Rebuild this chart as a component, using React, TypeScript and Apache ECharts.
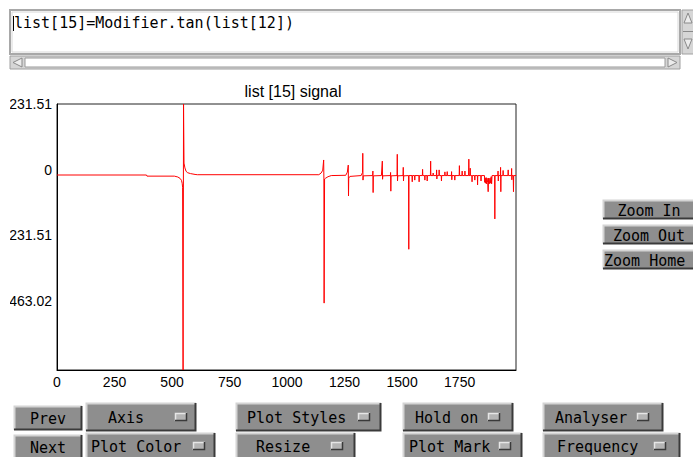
import React, { useEffect, useRef } from "react";
import * as echarts from "echarts";

// ---- chart data ----
const chartTitle = "list [15] signal";
const expressionText = "list[15]=Modifier.tan(list[12])";
const xTickValues = [0, 250, 500, 750, 1000, 1250, 1500, 1750];
const yTickValues = [231.51, 0, -231.51, -463.02];
const xMax = 1995;
const yMin = -707;
const yMax = 231.51;

// sample index / value pairs
const leadIn: number[][] = [
  [0, -19], [389, -19], [391, -23], [510, -23], [525, -26], [535, -31],
  [541, -38], [544, -48], [546, -62],
];
const firstPole: number[][] = [
  [547, -432], [548, -707], [550, 231.51], [552, 23], [556, 6], [561, -6],
  [568, -11], [580, -14], [600, -17], [610, -18],
];
const secondPole: number[][] = [
  [1138, -18], [1148, -12], [1155, -2], [1159, 34], [1160, -30], [1161, -471],
  [1163, -33], [1168, -30], [1178, -25], [1192, -21],
];
const spikeTrain: number[][] = [
  [1255, -20], [1262, -9], [1266, 16], [1267, -93], [1268, -30], [1273, -24],
  [1322, -21], [1328, -10], [1329, 57.6], [1330, -37], [1331, -22],
  [1372, -21], [1373, -5], [1374, -81], [1375, -22],
  [1410, -21], [1414, 30], [1415, -34], [1416, -22],
  [1449, -21], [1450, -10], [1451, -76], [1452, -22],
  [1478, -21], [1479, 54], [1480, -40], [1481, -22],
  [1504, -21], [1505, 8], [1506, -40], [1507, -22],
  [1528, -21], [1529, -281], [1530, -21],
  [1543, -21], [1544, -43], [1545, -21],
  [1554, -21], [1555, -37], [1556, -21],
  [1573, -21], [1574, -43], [1575, -21],
  [1588, -21], [1589, 1], [1590, -21],
  [1598, -21], [1599, -37], [1600, -21],
  [1608, -21], [1609, -40], [1610, -21],
  [1623, -21], [1624, 30], [1625, -21],
  [1634, -21], [1635, -12], [1636, -21],
];
const noisyTail: number[][] = [
  [1649, -21], [1650, -1], [1651, -33], [1652, -21],
  [1660, -21], [1661, -1], [1662, -21],
  [1670, -21], [1671, -40], [1672, -21],
  [1685, -21], [1686, -8], [1687, -21],
  [1695, -21], [1696, -7], [1697, -21],
  [1714, -21], [1715, -7], [1716, -36], [1717, -21],
  [1728, -21], [1729, -37], [1730, -21],
  [1748, -21], [1749, 14], [1750, -21],
  [1760, -21], [1761, -5], [1762, -21],
  [1772, -21], [1773, -5], [1774, -21],
  [1789, -21], [1790, 37], [1791, -21],
  [1795, -21], [1796, 5], [1797, -21],
  [1803, -21], [1804, -43], [1805, -21],
  [1815, -21], [1816, -37], [1817, -21],
  [1827, -21], [1828, -54], [1829, -21],
  [1842, -21], [1843, -40], [1844, -21],
  [1858, -21], [1859, -45], [1861, -30], [1863, -48], [1865, -28], [1867, -50],
  [1869, -30], [1872, -45], [1874, -78], [1876, -30], [1879, -50], [1882, -30],
  [1885, -48], [1887, -25], [1889, -50], [1891, -21],
  [1902, -21], [1903, -174], [1904, -21],
  [1916, -21], [1917, -5], [1918, -40], [1919, -21],
  [1927, -21], [1928, 8], [1929, -78], [1930, -21],
  [1938, -21], [1939, -3], [1940, -21],
  [1960, -21], [1961, -1], [1962, -21],
  [1975, -21], [1976, 4], [1977, -36], [1978, -21],
  [1983, -21], [1984, -78], [1985, -21], [1995, -21],
];

// ---- GUI widgets around the plot ----
type Btn = { label: string; x: number; y: number; w: number; h: number; tx: number; center?: boolean; icon?: number };
const buttons: Btn[] = [
  { label: "Prev", x: 14, y: 406, w: 68, h: 24, tx: 48, center: true },
  { label: "Next", x: 14, y: 435, w: 68, h: 24, tx: 48, center: true },
  { label: "Axis", x: 86, y: 403, w: 110, h: 28, tx: 108, icon: 181 },
  { label: "Plot Color", x: 86, y: 433, w: 129, h: 26, tx: 91, icon: 199 },
  { label: "Plot Styles", x: 236, y: 403, w: 145, h: 28, tx: 247, icon: 364 },
  { label: "Resize", x: 236, y: 433, w: 119, h: 26, tx: 256, icon: 337 },
  { label: "Hold on", x: 403, y: 403, w: 110, h: 28, tx: 415, icon: 494 },
  { label: "Plot Mark", x: 403, y: 433, w: 119, h: 26, tx: 409, icon: 505 },
  { label: "Analyser", x: 543, y: 403, w: 120, h: 28, tx: 555, icon: 643 },
  { label: "Frequency", x: 543, y: 433, w: 137, h: 26, tx: 557, icon: 660 },
  { label: "Zoom In", x: 603, y: 200, w: 92, h: 19, tx: 649, center: true },
  { label: "Zoom Out", x: 603, y: 225, w: 92, h: 19, tx: 649, center: true },
  { label: "Zoom Home", x: 603, y: 250, w: 92, h: 19, tx: 604 },
];

const MONO = "15px 'DejaVu Sans Mono', 'Liberation Mono', monospace";

function bevel(x: number, y: number, w: number, h: number, light: string, dark: string, lw = 2): any[] {
  return [
    { type: "polyline", shape: { points: [[x + 0.5, y + h], [x + 0.5, y + 0.5], [x + w, y + 0.5]] }, style: { stroke: light, lineWidth: lw, fill: "none" } },
    { type: "polyline", shape: { points: [[x + w - 0.5, y], [x + w - 0.5, y + h - 0.5], [x, y + h - 0.5]] }, style: { stroke: dark, lineWidth: lw, fill: "none" } },
  ];
}

function buttonGraphics(b: Btn): any[] {
  const els: any[] = [
    { type: "rect", shape: { x: b.x, y: b.y, width: b.w, height: b.h }, style: { fill: "#8e8e8e" } },
    ...bevel(b.x, b.y, b.w, b.h, "#d4d4d4", "#3a3a3a"),
    {
      type: "text",
      x: b.tx,
      y: b.y + b.h / 2 + 1,
      style: {
        text: b.label, font: MONO, fill: "#000",
        align: b.center ? "center" : "left", verticalAlign: "middle",
        textAlign: b.center ? "center" : "left", textVerticalAlign: "middle",
      },
    },
  ];
  if (b.icon !== undefined) {
    const ix = b.icon - 6, iy = b.y + b.h / 2 - 4;
    els.push({ type: "rect", shape: { x: ix, y: iy, width: 12, height: 8 }, style: { fill: "#b4b4b4" } });
    els.push(...bevel(ix, iy, 12, 8, "#e6e6e6", "#3a3a3a", 1.5));
  }
  return els;
}

function guiGraphics(): any[] {
  const els: any[] = [];
  // expression text box
  els.push({ type: "rect", shape: { x: 10, y: 10, width: 670, height: 44 }, style: { fill: "#fff", stroke: "#a8a8a8", lineWidth: 2 } });
  els.push({ type: "rect", shape: { x: 12, y: 12, width: 666, height: 40 }, style: { fill: "none", stroke: "#d8d8d8", lineWidth: 1 } });
  els.push({ type: "text", x: 14, y: 23, style: { text: expressionText, font: MONO, fill: "#000", align: "left", verticalAlign: "middle", textAlign: "left", textVerticalAlign: "middle" } });
  els.push({ type: "line", shape: { x1: 13.5, y1: 16, x2: 13.5, y2: 31 }, style: { stroke: "#000", lineWidth: 1 } });
  // vertical scrollbar
  els.push({ type: "rect", shape: { x: 682, y: 10, width: 12, height: 44 }, style: { fill: "#d6d6d6", stroke: "#a0a0a0", lineWidth: 1 } });
  els.push({ type: "polygon", shape: { points: [[684, 23], [688, 13], [692, 23]] }, style: { fill: "#ececec", stroke: "#8a8a8a", lineWidth: 1 } });
  els.push({ type: "line", shape: { x1: 683, y1: 31.5, x2: 693, y2: 31.5 }, style: { stroke: "#8a8a8a", lineWidth: 1 } });
  els.push({ type: "polygon", shape: { points: [[684, 39], [688, 49], [692, 39]] }, style: { fill: "#ececec", stroke: "#8a8a8a", lineWidth: 1 } });
  // horizontal scrollbar
  els.push({ type: "rect", shape: { x: 10, y: 56, width: 670, height: 13 }, style: { fill: "#d6d6d6", stroke: "#a0a0a0", lineWidth: 1 } });
  els.push({ type: "rect", shape: { x: 25, y: 58, width: 640, height: 9 }, style: { fill: "#fff", stroke: "#9a9a9a", lineWidth: 1 } });
  els.push({ type: "polygon", shape: { points: [[13, 62.5], [22, 58], [22, 67]] }, style: { fill: "#ececec", stroke: "#8a8a8a", lineWidth: 1 } });
  els.push({ type: "polygon", shape: { points: [[677, 62.5], [668, 58], [668, 67]] }, style: { fill: "#ececec", stroke: "#8a8a8a", lineWidth: 1 } });
  // the plot panel starts at x = 10: long tick labels are clipped there
  els.push({ type: "rect", z: 100, shape: { x: 0, y: 90, width: 10, height: 240 }, style: { fill: "#fff" } });
  for (const b of buttons) els.push(...buttonGraphics(b));
  return els;
}

export default function App() {
  const ref = useRef<HTMLDivElement>(null);
  useEffect(() => {
    if (!ref.current) return;
    const chart = echarts.init(ref.current, null, { renderer: "svg" });
    const signal = [...leadIn, ...firstPole, ...secondPole, ...spikeTrain, ...noisyTail];
    const labelFont = { fontFamily: "'Liberation Sans', Arial, sans-serif", fontSize: 14, color: "#000" };
    chart.setOption({
      animation: false,
      backgroundColor: "#fff",
      title: {
        text: chartTitle,
        left: 293,
        top: 83,
        textAlign: "center",
        padding: 0,
        textStyle: { fontFamily: "'Liberation Sans', Arial, sans-serif", fontSize: 16, fontWeight: "normal", color: "#000" },
      },
      grid: { left: 57, top: 104, right: 177, bottom: 87, show: true, borderColor: "#222", borderWidth: 1, backgroundColor: "#fff" },
      xAxis: {
        type: "value",
        min: 0,
        max: xMax,
        interval: 250,
        axisLine: { show: true, onZero: false, lineStyle: { color: "#000", width: 1 } },
        axisTick: { show: false },
        splitLine: { show: false },
        axisLabel: { ...labelFont, margin: 5, customValues: xTickValues, hideOverlap: false, formatter: (v: number) => String(v) },
      },
      yAxis: {
        type: "value",
        min: yMin,
        max: yMax,
        axisLine: { show: true, onZero: false, lineStyle: { color: "#000", width: 1 } },
        axisTick: { show: false },
        splitLine: { show: false },
        axisLabel: { ...labelFont, margin: 5, customValues: yTickValues, formatter: (v: number) => String(v) },
      },
      series: [
        {
          type: "line",
          data: signal,
          showSymbol: false,
          symbol: "none",
          clip: true,
          lineStyle: { color: "#ff0000", width: 1 },
          itemStyle: { color: "#ff0000" },
        },
      ],
      graphic: { elements: guiGraphics() },
    });
    return () => chart.dispose();
  }, []);
  return (
    <div
      ref={ref}
      style={{ position: "fixed", left: 0, top: 0, width: 693, height: 457, background: "#fff" }}
    />
  );
}
